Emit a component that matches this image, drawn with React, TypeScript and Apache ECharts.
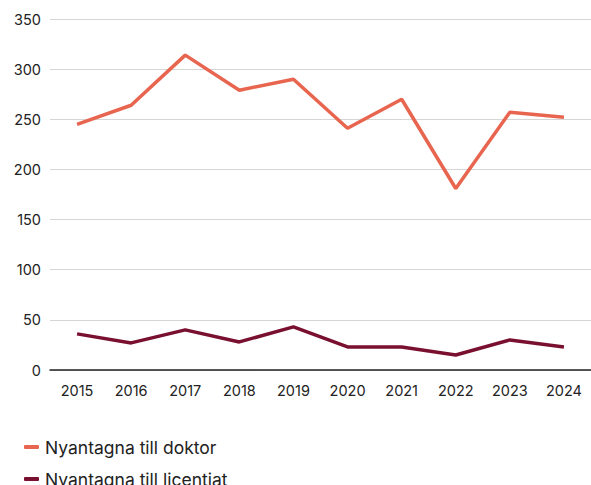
import React, { useEffect, useRef } from "react";
import * as echarts from "echarts";

const years = ["2015", "2016", "2017", "2018", "2019", "2020", "2021", "2022", "2023", "2024"];
const doktor = [245, 264, 314, 279, 290, 241, 270, 181, 257, 252];
const licentiat = [36, 27, 40, 28, 43, 23, 23, 15, 30, 23];
const seriesNames = ["Nyantagna till doktor", "Nyantagna till licentiat"];
const colors = ["#E8654F", "#7A1030"];

export default function App() {
  const ref = useRef<HTMLDivElement>(null);
  useEffect(() => {
    if (!ref.current) return;
    const chart = echarts.init(ref.current, null, { renderer: "svg" });
    const font = "Inter, 'Noto Sans', sans-serif";
    const legendBase = {
      orient: "horizontal",
      left: 19,
      itemWidth: 15,
      itemHeight: 4,
      itemGap: 10,
      icon: "roundRect",
      textStyle: { fontSize: 17.5, color: "#222", fontFamily: font, padding: [0, 0, 0, 1] },
    };
    chart.setOption({
      animation: false,
      textStyle: { fontFamily: font },
      grid: { left: 50, right: -4, top: 19, bottom: 115, containLabel: false },
      legend: [
        { ...legendBase, top: 433, data: [seriesNames[0]] },
        { ...legendBase, top: 465, data: [seriesNames[1]] },
      ],
      xAxis: {
        type: "category",
        data: years,
        boundaryGap: true,
        axisLine: { show: true, lineStyle: { color: "#222", width: 1.5 } },
        axisTick: { show: false },
        axisLabel: { color: "#222", fontSize: 14.5, margin: 13 },
      },
      yAxis: {
        type: "value",
        min: 0,
        max: 350,
        interval: 50,
        axisLine: { show: false },
        axisTick: { show: false },
        axisLabel: { color: "#222", fontSize: 14.5, margin: 9 },
        splitLine: { lineStyle: { color: "#d6d6d6", width: 1 } },
      },
      series: [
        {
          name: seriesNames[0],
          type: "line",
          data: doktor,
          symbol: "none",
          lineStyle: { color: colors[0], width: 3.5 },
          itemStyle: { color: colors[0] },
        },
        {
          name: seriesNames[1],
          type: "line",
          data: licentiat,
          symbol: "none",
          lineStyle: { color: colors[1], width: 3.5 },
          itemStyle: { color: colors[1] },
        },
      ],
    });
    return () => chart.dispose();
  }, []);
  return (
    <div
      ref={ref}
      style={{ position: "absolute", left: 0, top: 0, width: 591, height: 485, background: "#fff" }}
    />
  );
}
